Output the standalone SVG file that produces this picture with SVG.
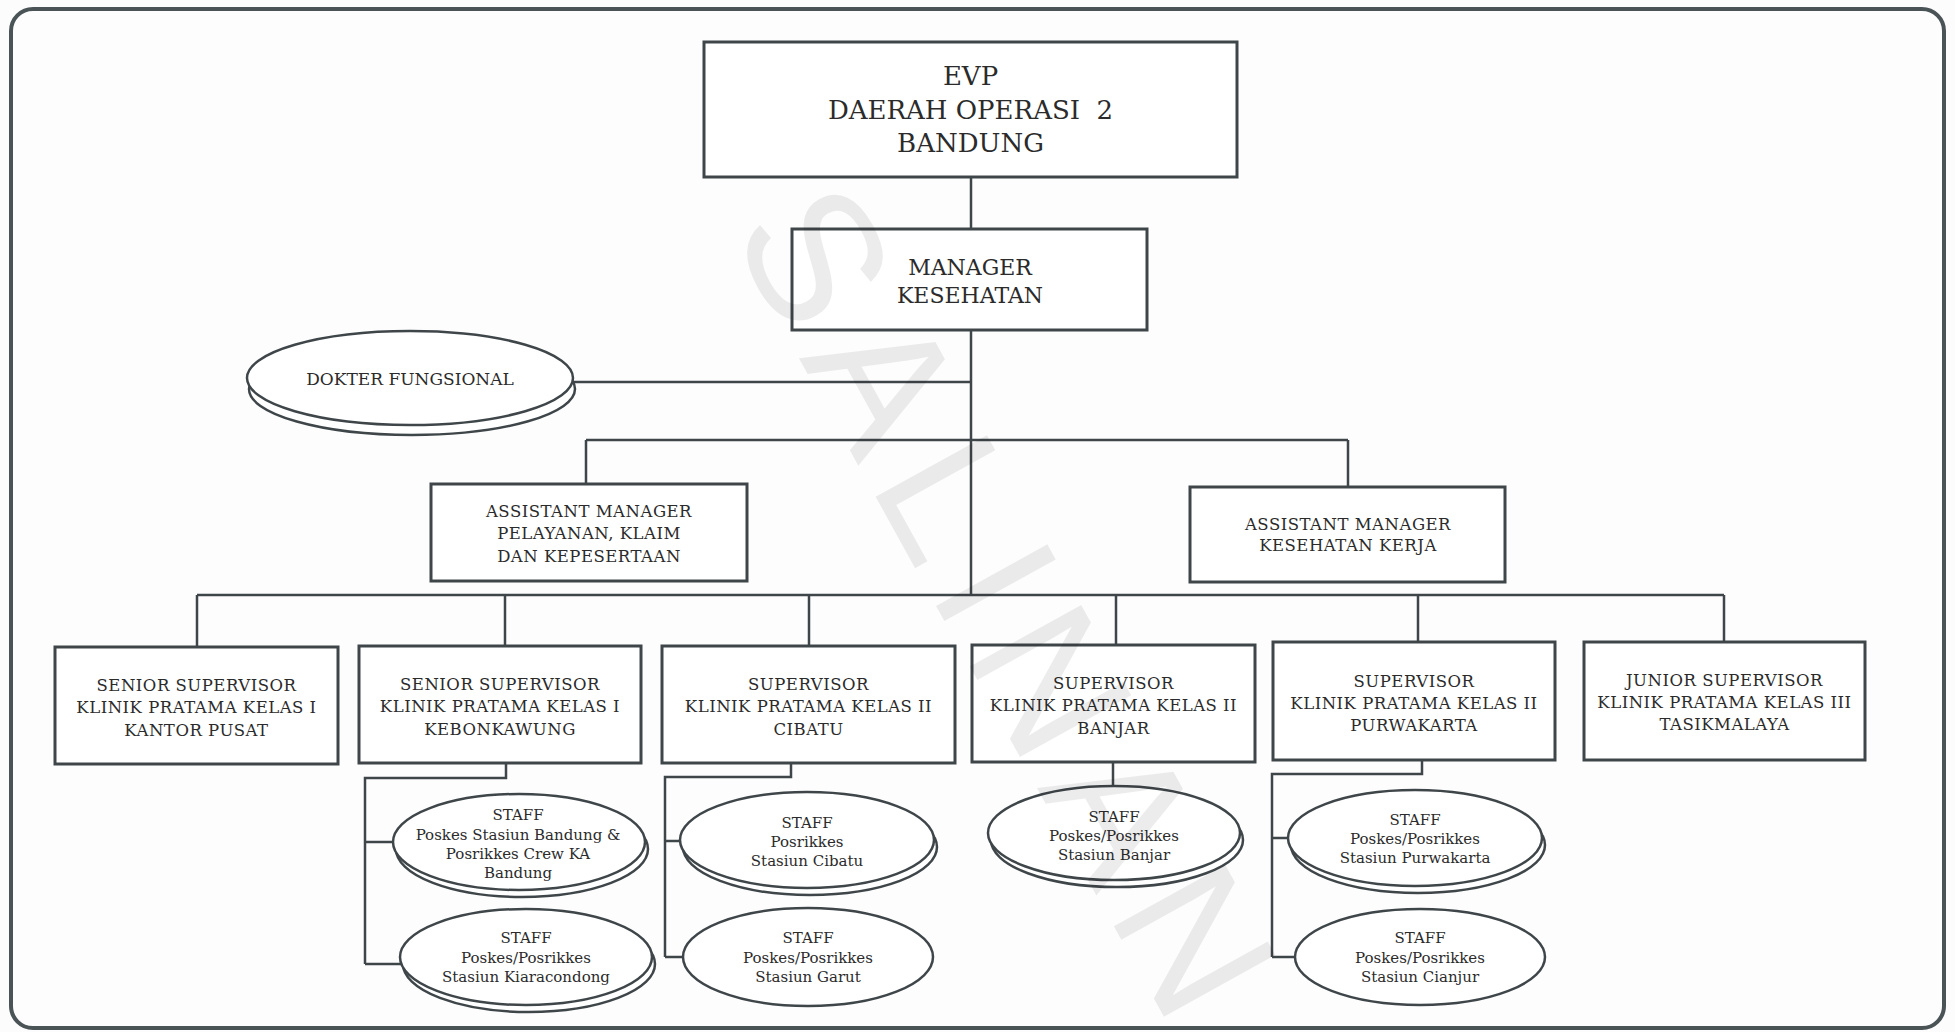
<svg xmlns="http://www.w3.org/2000/svg" width="1955" height="1032" viewBox="0 0 1955 1032">
<style>
.box{fill:#fff;stroke:#3f4649;stroke-width:3}
.ell{fill:#fff;stroke:#3f4649;stroke-width:2.5}
.ln{fill:none;stroke:#3f4649;stroke-width:2.5}
.t{font-family:"DejaVu Serif","Liberation Serif",serif;fill:#2b2b2b;text-anchor:middle}
.big{font-size:26px}
.mgr{font-size:22px}
.bx{font-size:16.5px;letter-spacing:0.5px}
.dk{font-size:17px}
.st{font-size:15px}
.wm{font-family:"Liberation Sans",Arial,sans-serif;font-size:185px;fill:#000;fill-opacity:0.075;letter-spacing:20px;text-anchor:middle}
</style>
<rect width="1955" height="1032" fill="#fcfcfc"/>
<rect x="11" y="9" width="1933" height="1019" rx="22" fill="#fdfdfd" stroke="#4a5356" stroke-width="4"/>

<g id="connectors">
<path class="ln" d="M971 177V229M971 330V595"/>
<path class="ln" d="M573 382H971"/>
<path class="ln" d="M586 440H1348M586 440V484M1348 440V487"/>
<path class="ln" d="M197 595H1724M197 595V647M505 595V646M809 595V646M1116 595V645M1418 595V642M1724 595V642"/>
<path class="ln" d="M506 763V778H365V964M365 842H393M365 964H401"/>
<path class="ln" d="M791 763V777H665V957M665 841H680M665 957H683"/>
<path class="ln" d="M1113 762V786"/>
<path class="ln" d="M1422 760V774H1272V957M1272 838H1288M1272 957H1295"/>
</g>

<g id="evp">
<rect class="box" x="704" y="42" width="533" height="135"/>
<text class="t big" x="970.5" y="85">EVP</text>
<text class="t big" x="970.5" y="119">DAERAH OPERASI&#160; 2</text>
<text class="t big" x="970.5" y="152">BANDUNG</text>
</g>
<g id="manager">
<rect class="box" x="792" y="229" width="355" height="101"/>
<text class="t mgr" x="970" y="275">MANAGER</text>
<text class="t mgr" x="970" y="303">KESEHATAN</text>
</g>
<g id="dokter">
<ellipse class="ell" cx="412" cy="389" rx="163" ry="46"/>
<ellipse class="ell" cx="410" cy="378" rx="163" ry="47"/>
<text class="t dk" x="410" y="385">DOKTER FUNGSIONAL</text>
</g>
<g id="am1">
<rect class="box" x="431" y="484" width="316" height="97"/>
<text class="t bx" x="589" y="517">ASSISTANT MANAGER</text>
<text class="t bx" x="589" y="539">PELAYANAN, KLAIM</text>
<text class="t bx" x="589" y="562">DAN KEPESERTAAN</text>
</g>
<g id="am2">
<rect class="box" x="1190" y="487" width="315" height="95"/>
<text class="t bx" x="1348" y="530">ASSISTANT MANAGER</text>
<text class="t bx" x="1348" y="551">KESEHATAN KERJA</text>
</g>

<g id="sup1">
<rect class="box" x="55" y="647" width="283" height="117"/>
<text class="t bx" x="196.5" y="691">SENIOR SUPERVISOR</text>
<text class="t bx" x="196.5" y="713">KLINIK PRATAMA KELAS I</text>
<text class="t bx" x="196.5" y="736">KANTOR PUSAT</text>
</g>
<g id="sup2">
<rect class="box" x="359" y="646" width="282" height="117"/>
<text class="t bx" x="500" y="690">SENIOR SUPERVISOR</text>
<text class="t bx" x="500" y="712">KLINIK PRATAMA KELAS I</text>
<text class="t bx" x="500" y="735">KEBONKAWUNG</text>
</g>
<g id="sup3">
<rect class="box" x="662" y="646" width="293" height="117"/>
<text class="t bx" x="808.5" y="690">SUPERVISOR</text>
<text class="t bx" x="808.5" y="712">KLINIK PRATAMA KELAS II</text>
<text class="t bx" x="808.5" y="735">CIBATU</text>
</g>
<g id="sup4">
<rect class="box" x="972" y="645" width="283" height="117"/>
<text class="t bx" x="1113.5" y="689">SUPERVISOR</text>
<text class="t bx" x="1113.5" y="711">KLINIK PRATAMA KELAS II</text>
<text class="t bx" x="1113.5" y="734">BANJAR</text>
</g>
<g id="sup5">
<rect class="box" x="1273" y="642" width="282" height="118"/>
<text class="t bx" x="1414" y="687">SUPERVISOR</text>
<text class="t bx" x="1414" y="709">KLINIK PRATAMA KELAS II</text>
<text class="t bx" x="1414" y="731">PURWAKARTA</text>
</g>
<g id="sup6">
<rect class="box" x="1584" y="642" width="281" height="118"/>
<text class="t bx" x="1724.5" y="686">JUNIOR SUPERVISOR</text>
<text class="t bx" x="1724.5" y="708">KLINIK PRATAMA KELAS III</text>
<text class="t bx" x="1724.5" y="730">TASIKMALAYA</text>
</g>

<g id="staff-bandung">
<ellipse class="ell" cx="522" cy="849" rx="126" ry="48"/>
<ellipse class="ell" cx="519" cy="842" rx="126" ry="48"/>
<text class="t st" x="518" y="820">STAFF</text>
<text class="t st" x="518" y="840">Poskes Stasiun Bandung &amp;</text>
<text class="t st" x="518" y="859">Posrikkes Crew KA</text>
<text class="t st" x="518" y="878">Bandung</text>
</g>
<g id="staff-kiaracondong">
<ellipse class="ell" cx="529" cy="964" rx="126" ry="48"/>
<ellipse class="ell" cx="526" cy="957" rx="126" ry="48"/>
<text class="t st" x="526" y="943">STAFF</text>
<text class="t st" x="526" y="963">Poskes/Posrikkes</text>
<text class="t st" x="526" y="982">Stasiun Kiaracondong</text>
</g>
<g id="staff-cibatu">
<ellipse class="ell" cx="810" cy="847" rx="127" ry="48"/>
<ellipse class="ell" cx="807" cy="840" rx="127" ry="48"/>
<text class="t st" x="807" y="828">STAFF</text>
<text class="t st" x="807" y="847">Posrikkes</text>
<text class="t st" x="807" y="866">Stasiun Cibatu</text>
</g>
<g id="staff-garut">
<ellipse class="ell" cx="808" cy="957" rx="125" ry="49"/>
<text class="t st" x="808" y="943">STAFF</text>
<text class="t st" x="808" y="963">Poskes/Posrikkes</text>
<text class="t st" x="808" y="982">Stasiun Garut</text>
</g>
<g id="staff-banjar">
<ellipse class="ell" cx="1117" cy="840" rx="126" ry="47"/>
<ellipse class="ell" cx="1114" cy="833" rx="126" ry="47"/>
<text class="t st" x="1114" y="822">STAFF</text>
<text class="t st" x="1114" y="841">Poskes/Posrikkes</text>
<text class="t st" x="1114" y="860">Stasiun Banjar</text>
</g>
<g id="staff-purwakarta">
<ellipse class="ell" cx="1418" cy="845" rx="127" ry="48"/>
<ellipse class="ell" cx="1415" cy="838" rx="127" ry="48"/>
<text class="t st" x="1415" y="825">STAFF</text>
<text class="t st" x="1415" y="844">Poskes/Posrikkes</text>
<text class="t st" x="1415" y="863">Stasiun Purwakarta</text>
</g>
<g id="staff-cianjur">
<ellipse class="ell" cx="1420" cy="957" rx="125" ry="48"/>
<text class="t st" x="1420" y="943">STAFF</text>
<text class="t st" x="1420" y="963">Poskes/Posrikkes</text>
<text class="t st" x="1420" y="982">Stasiun Cianjur</text>
</g>

<text class="wm" transform="translate(955 640) rotate(61)">SALINAN</text>
</svg>
